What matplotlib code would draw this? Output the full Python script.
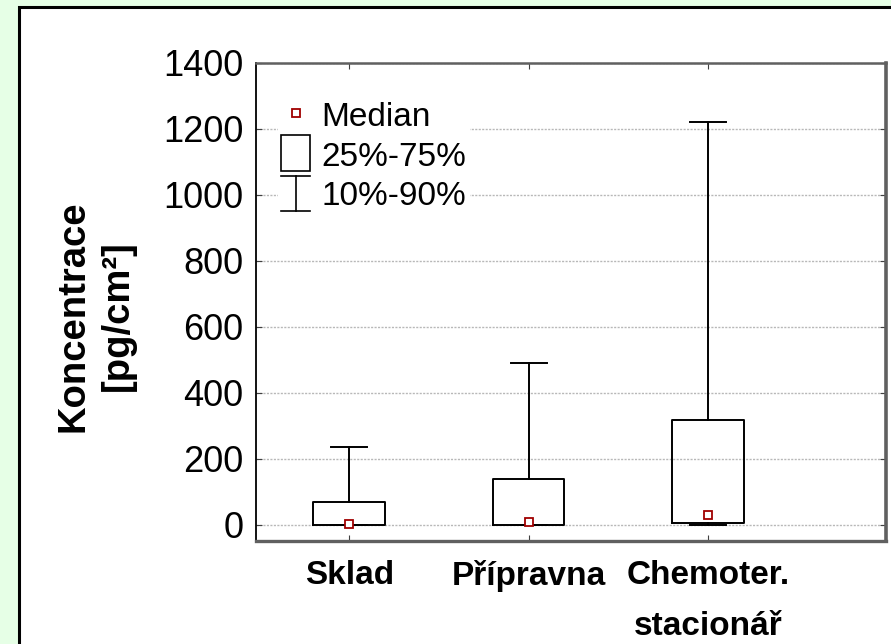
import matplotlib
matplotlib.use("Agg")
import matplotlib.pyplot as plt
from matplotlib.patches import Rectangle
from matplotlib.lines import Line2D
from matplotlib.legend_handler import HandlerBase

# ---- data ----
categories = ["Sklad", "Přípravna", "Chemoter.\nstacionář"]
q10 = [0, 0, 0]
q25 = [0, 0, 5]
median = [2, 8, 29]
q75 = [67, 138, 316]
q90 = [236, 489, 1222]
yticks = [0, 200, 400, 600, 800, 1000, 1200, 1400]
legend_labels = ["Median", "25%-75%", "10%-90%"]

plt.rcParams['font.family'] = ['Liberation Sans', 'DejaVu Sans']

W, H = 891, 644
fig = plt.figure(figsize=(W / 100, H / 100), dpi=100)
fig.patch.set_facecolor('#e6ffe6')

# white inner panel with black border
panel = Rectangle((19 / W, -0.05), 1.1, 1 - 7 / H + 0.05, transform=fig.transFigure,
                  facecolor='white', edgecolor='black', linewidth=2.2, zorder=-10)
fig.patches.append(panel)

ax = fig.add_axes([256 / W, 1 - 541 / H, (885.5 - 256) / W, (541 - 63) / H])
ax.set_zorder(1)
ax.set_facecolor('white')

positions = [1, 2, 3]
stats = []
for i in range(3):
    stats.append(dict(med=median[i], q1=q25[i], q3=q75[i], whislo=q10[i], whishi=q90[i],
                      fliers=[], label=categories[i]))

ax.bxp(stats, positions=positions, widths=0.4, capwidths=0.2, showfliers=False,
       boxprops=dict(color='black', linewidth=1.4),
       whiskerprops=dict(color='black', linewidth=1.4),
       capprops=dict(color='black', linewidth=1.4),
       medianprops=dict(visible=False), zorder=3)
ax.plot(positions, median, linestyle='none', marker='s', markersize=6,
        markerfacecolor='white', markeredgecolor='#a00000', markeredgewidth=1.3, zorder=4)

ax.set_xlim(0.48, 3.99)
ax.set_ylim(-50, 1400)
ax.set_yticks(yticks)
ax.set_xticks(positions)
ax.set_xticklabels(categories, fontsize=24, fontweight='bold', linespacing=1.8)
ax.tick_params(axis='y', labelsize=26, direction='in', length=4, right=True, pad=9, color='#404040')
ax.tick_params(axis='x', direction='in', length=4, top=True, pad=14, color='#404040')

ax.yaxis.grid(True, color='#b8b8b8', linestyle=(0, (1.5, 1)), linewidth=1.0, zorder=1)
ax.set_axisbelow(True)

ax.spines['left'].set_color('black')
ax.spines['left'].set_linewidth(1.3)
ax.spines['top'].set_color('#606060')
ax.spines['top'].set_linewidth(1.8)
ax.spines['right'].set_color('#606060')
ax.spines['right'].set_linewidth(2.6)
ax.spines['bottom'].set_color('#606060')
ax.spines['bottom'].set_linewidth(2.4)

ax.set_ylabel("Koncentrace\n[pg/cm²]", fontsize=27.5, fontweight='bold', linespacing=1.3)
lab = ax.yaxis.label
lab.set_rotation_mode('default')
lab.set_verticalalignment('center')
lab.set_horizontalalignment('center')
ax.yaxis.set_label_coords((96 - 256) / 629.5, (541 - 316) / 478)


# ---- legend with custom glyphs ----
class BoxHandler(HandlerBase):
    def create_artists(self, legend, orig_handle, xdescent, ydescent, width, height, fontsize, trans):
        r = Rectangle((-xdescent, -ydescent - 0.1 * height), width, height * 1.25,
                      facecolor='white', edgecolor='black', linewidth=1.2, transform=trans)
        return [r]


class WhiskerHandler(HandlerBase):
    def create_artists(self, legend, orig_handle, xdescent, ydescent, width, height, fontsize, trans):
        x0, x1 = -xdescent, -xdescent + width
        xm = (x0 + x1) / 2
        y0, y1 = -ydescent - 0.1 * height, -ydescent + height * 1.1
        arts = [Line2D([xm, xm], [y0, y1], color='black', linewidth=1.2, transform=trans),
                Line2D([x0, x1], [y0, y0], color='black', linewidth=1.2, transform=trans),
                Line2D([x0, x1], [y1, y1], color='black', linewidth=1.2, transform=trans)]
        return arts


h_med = Line2D([], [], linestyle='none', marker='s', markersize=6,
               markerfacecolor='white', markeredgecolor='#a00000', markeredgewidth=1.3)
h_box = Rectangle((0, 0), 1, 1)
h_whisk = object()
leg = ax.legend([h_med, h_box, h_whisk], legend_labels,
                handler_map={Rectangle: BoxHandler(), object: WhiskerHandler()},
                loc='upper left', bbox_to_anchor=(0.035, 0.929), borderaxespad=0,
                fontsize=24, frameon=True, fancybox=False, framealpha=1,
                facecolor='white', edgecolor='none', borderpad=0.1,
                handlelength=0.85, handleheight=0.95, handletextpad=0.35, labelspacing=0.2)
leg.set_zorder(5)

fig.savefig("out.png", dpi=100, facecolor=fig.get_facecolor())
